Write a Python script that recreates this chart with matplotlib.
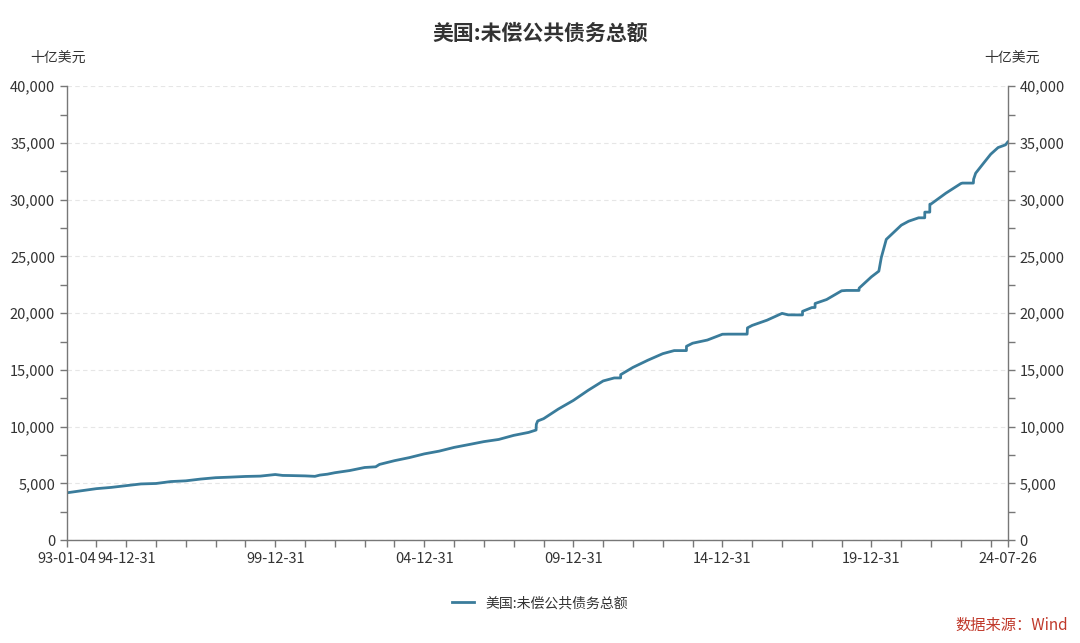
import numpy as np
import pandas as pd
import matplotlib
matplotlib.use("Agg")
import matplotlib.pyplot as plt
import matplotlib.dates as mdates
from matplotlib.ticker import MultipleLocator, FuncFormatter

plt.rcParams['font.family'] = ['Noto Sans CJK SC', 'DejaVu Sans']

title = "美国:未偿公共债务总额"
series_name = "美国:未偿公共债务总额"
unit = "十亿美元"
source = "数据来源：Wind"

# values (billions of USD)
dates = [
    "1993-01-04", "1993-06-30", "1993-12-31", "1994-06-30", "1994-12-31",
    "1995-06-30", "1995-12-31", "1996-06-30", "1996-12-31", "1997-06-30",
    "1997-12-31", "1998-06-30", "1998-12-31", "1999-06-30", "1999-12-31",
    "2000-03-31", "2000-06-30", "2000-12-31", "2001-04-30", "2001-06-30",
    "2001-09-30", "2001-12-31", "2002-06-30", "2002-12-31", "2003-05-15",
    "2003-06-30", "2003-12-31", "2004-06-30", "2004-12-31", "2005-06-30",
    "2005-12-31", "2006-06-30", "2006-12-31", "2007-06-30", "2007-12-31",
    "2008-06-30", "2008-09-30", "2008-10-03", "2008-10-20", "2008-12-31",
    "2009-06-30", "2009-12-31", "2010-06-30", "2010-12-31", "2011-05-16",
    "2011-08-02", "2011-08-03", "2011-12-31", "2012-06-30", "2012-12-31",
    "2013-05-19", "2013-10-16", "2013-10-17", "2013-12-31", "2014-06-30",
    "2014-12-31", "2015-03-15", "2015-10-30", "2015-11-03", "2015-12-31",
    "2016-06-30", "2016-12-31", "2017-03-15", "2017-09-07", "2017-09-08",
    "2017-12-31", "2018-02-08", "2018-02-09", "2018-06-30", "2018-12-31",
    "2019-03-01", "2019-08-01", "2019-08-02", "2019-12-31", "2020-03-31",
    "2020-04-30", "2020-06-30", "2020-12-31", "2021-03-31", "2021-07-31",
    "2021-10-14", "2021-10-15", "2021-12-15", "2021-12-16", "2021-12-31",
    "2022-06-30", "2022-12-31", "2023-01-19", "2023-06-02", "2023-06-05",
    "2023-06-30", "2023-09-30", "2023-12-31", "2024-03-31", "2024-06-30",
    "2024-07-26",
]
debt = [
    4170, 4350, 4535, 4645, 4800,
    4950, 4990, 5160, 5225, 5380,
    5500, 5550, 5610, 5640, 5780,
    5700, 5690, 5660, 5620, 5730,
    5810, 5940, 6130, 6400, 6460,
    6670, 7000, 7270, 7600, 7840,
    8170, 8420, 8680, 8870, 9230,
    9490, 9700, 10200, 10500, 10700,
    11550, 12310, 13200, 14025, 14290,
    14290, 14580, 15220, 15850, 16430,
    16700, 16700, 17080, 17350, 17630,
    18140, 18150, 18150, 18700, 18920,
    19380, 19980, 19850, 19840, 20160,
    20490, 20500, 20850, 21200, 21970,
    22000, 22000, 22200, 23200, 23700,
    24900, 26500, 27750, 28100, 28400,
    28400, 28900, 28900, 29600, 29620,
    30570, 31420, 31460, 31460, 31800,
    32330, 33170, 34000, 34590, 34830,
    35070,
]

x = pd.to_datetime(dates)
start, end = x[0], x[-1]

fig = plt.figure(figsize=(10.8, 6.43), dpi=100)
ax = fig.add_axes([0.062, 0.160, 0.871, 0.706])
ax2 = ax.twinx()

line_color = '#3a7c9b'
axis_color = '#777777'
text_color = '#333333'

ax.plot(x, debt, color=line_color, lw=2.0, label=series_name)

ax.set_xlim(start, end)
for a in (ax, ax2):
    a.set_ylim(0, 40000)
    a.yaxis.set_major_locator(MultipleLocator(5000))
    a.yaxis.set_minor_locator(MultipleLocator(2500))
    a.yaxis.set_major_formatter(FuncFormatter(lambda v, p: f"{int(v):,}"))
    a.tick_params(axis='y', which='both', colors=axis_color, labelcolor=text_color,
                  labelsize=10.5, length=5, width=1)
    for s in a.spines.values():
        s.set_visible(False)

ax.spines['left'].set_visible(True)
ax.spines['bottom'].set_visible(True)
ax2.spines['right'].set_visible(True)
for s in (ax.spines['left'], ax.spines['bottom'], ax2.spines['right']):
    s.set_color(axis_color)
    s.set_linewidth(1)

ax.grid(axis='y', color='#e6e6e6', linestyle=(0, (4, 3)), lw=0.8)
ax.set_axisbelow(True)

# x ticks: every year end, labels at start, every 5 years and end
year_ends = pd.to_datetime([f"{y}-12-31" for y in range(1993, 2024)])
tick_dates = [start] + list(year_ends) + [end]
label_years = {1994, 1999, 2004, 2009, 2014, 2019}
tick_labels = []
for d in tick_dates:
    if d == start or d == end or (d.month == 12 and d.year in label_years):
        tick_labels.append(d.strftime("%y-%m-%d"))
    else:
        tick_labels.append("")
ax.set_xticks(tick_dates)
ax.set_xticklabels(tick_labels)
ax.tick_params(axis='x', colors=axis_color, labelcolor=text_color, labelsize=10.5,
               length=5, width=1)

fig.text(0.5, 0.948, title, ha='center', va='center', fontsize=15,
         fontweight='bold', color='#333333')
fig.text(0.054, 0.910, unit, ha='center', va='center', fontsize=10, color=text_color)
fig.text(0.937, 0.910, unit, ha='center', va='center', fontsize=10, color=text_color)

fig.legend(loc='center', bbox_to_anchor=(0.5, 0.062), frameon=False, fontsize=10,
           handlelength=1.6, labelcolor=text_color)

fig.text(0.989, 0.015, source, ha='right', va='bottom', fontsize=11, color='#c0392b')

fig.savefig("out.png", dpi=100, facecolor='white')
